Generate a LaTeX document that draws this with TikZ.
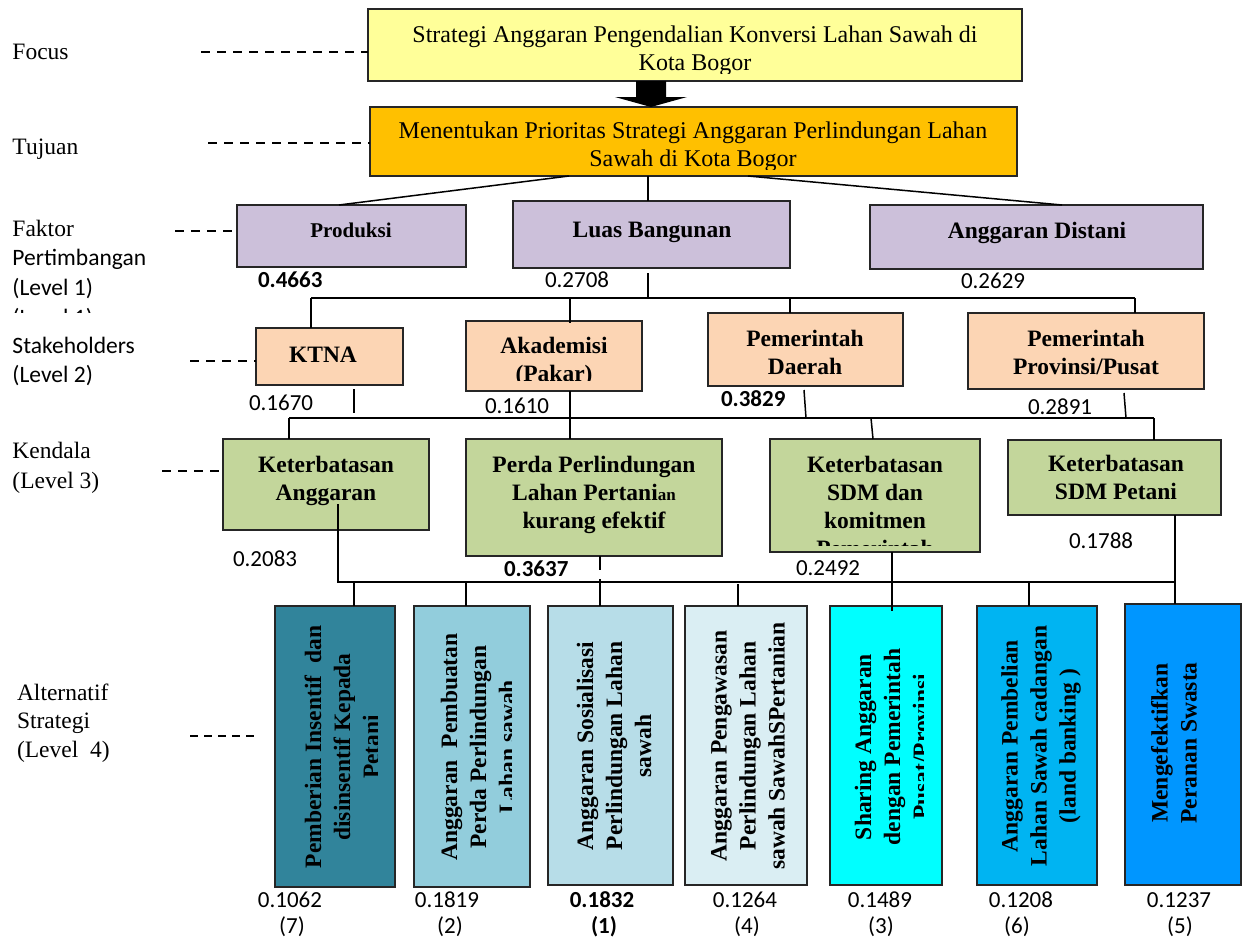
\documentclass[tikz,border=0pt]{standalone}
\usepackage{fontspec}
\setmainfont{Liberation Serif}
\newfontfamily\calib{Carlito}
\usetikzlibrary{calc}
\definecolor{cFocus}{HTML}{FFFF99}
\definecolor{cTuj}{HTML}{FFC000}
\definecolor{cL1}{HTML}{CCC0DA}
\definecolor{cL2}{HTML}{FCD5B4}
\definecolor{cL3}{HTML}{C3D69B}
\definecolor{cA1}{HTML}{31849B}
\definecolor{cA2}{HTML}{92CDDC}
\definecolor{cA3}{HTML}{B7DDE8}
\definecolor{cA4}{HTML}{DAEEF3}
\definecolor{cA5}{HTML}{00FFFF}
\definecolor{cA6}{HTML}{00B4F2}
\definecolor{cA7}{HTML}{0096FF}
\newcommand\ml[1]{\begin{tabular}[t]{@{}c@{}}#1\end{tabular}}
\newcommand\mkbox[6]{\node[box,fill=#6,minimum width={(#4-#2)*1pt},minimum height={(#5-#3)*1pt}] (#1) at ({(#2+#4)/2},{(#3+#5)/2}) {};}
\begin{document}
\begin{tikzpicture}[x=1pt,y=-1pt,
  every node/.style={inner sep=0pt,outer sep=0pt},
  box/.style={draw=black!85,line width=1.8pt},
  conn/.style={line width=1.5pt,black},
  guide/.style={line width=1.6pt,dash pattern=on 9pt off 7pt},
  guideb/.style={line width=1.6pt,dash pattern=on 8pt off 6pt},
  lab/.style={anchor=base west,font=\fontsize{23.5}{28}\selectfont},
  labs/.style={anchor=base west,font=\calib\fontsize{23.5}{28}\selectfont},
  ttl/.style={anchor=base,font=\fontsize{24}{28}\selectfont},
  btxt/.style={anchor=base,font=\bfseries\fontsize{23.5}{28}\selectfont},
  rtxt/.style={rotate=90,align=center,font=\bfseries\fontsize{23.5}{29}\selectfont},
  val/.style={anchor=base west,font=\calib\fontsize{23}{28}\selectfont},
  valc/.style={anchor=base,font=\calib\fontsize{23}{28}\selectfont}]
\useasboundingbox[fill=white] (0,0) rectangle (1244,940);

% ---------- left labels ----------
\node[lab] (lFocus) at (12.5,59) {Focus};
\node[lab] (lTuj) at (12.5,154) {Tujuan};
\node[lab] (lFak) at (12.5,236) {Faktor};
\node[labs] (lPert) at (12.5,265) {Pertimbangan};
\node[labs] (lLev1) at (12.5,295) {(Level 1)};
\begin{scope}
  \clip (0,300) rectangle (300,312);
  \node[labs] (lLev1b) at (12.5,325) {(Level 1)};
\end{scope}
\node[labs] (lStake) at (12.5,353) {Stakeholders};
\node[labs] (lLev2) at (12.5,382) {(Level 2)};
\node[lab] (lKen) at (12.5,458) {Kendala};
\node[lab] (lLev3) at (12.5,488) {(Level 3)};
\node[lab] (lAlt) at (17,700) {Alternatif};
\node[lab] (lStr) at (17,728) {Strategi};
\node[lab] (lLev4) at (17,757) {(Level\ \ 4)};

% ---------- boxes ----------
\mkbox{focus}{368}{9}{1022}{81}{cFocus}
\mkbox{tuj}{370}{107}{1017}{176}{cTuj}
\mkbox{prod}{237}{205}{466}{267}{cL1}
\mkbox{luas}{513}{201}{790}{268}{cL1}
\mkbox{dist}{870}{205}{1203}{269}{cL1}
\mkbox{ktna}{256}{328}{403}{385}{cL2}
\mkbox{akad}{466}{321}{642}{391}{cL2}
\mkbox{pemd}{708}{313}{903}{386}{cL2}
\mkbox{pemp}{968}{313}{1204}{389}{cL2}
\mkbox{ka}{223}{439}{429}{530}{cL3}
\mkbox{perda}{466}{439}{722}{556}{cL3}
\mkbox{sdm}{770}{439}{980}{552}{cL3}
\mkbox{sdmp}{1008}{440}{1221}{515}{cL3}
\mkbox{a1}{275}{606}{395}{887}{cA1}
\mkbox{a2}{414}{606}{530}{887}{cA2}
\mkbox{a3}{548}{606}{673}{885}{cA3}
\mkbox{a4}{685}{606}{807}{885}{cA4}
\mkbox{a5}{830}{606}{942}{885}{cA5}
\mkbox{a6}{977}{606}{1097}{885}{cA6}
\mkbox{a7}{1125}{604}{1241}{885}{cA7}

% ---------- guide dashes ----------
\draw[guide] (201,52) -- (focus.west |- 0,52);
\draw[guide] (208,143) -- (tuj.west |- 0,143);
\draw[guide] (175,231) -- (prod.west |- 0,231);
\draw[guide] (190,361) -- (ktna.west |- 0,361);
\draw[guide] (162,471) -- (ka.west |- 0,471);
\draw[guideb] (190,736) -- (258,736);

% ---------- thick arrow focus -> tujuan ----------
\fill (636,81) -- (666,81) -- (666,97) -- (687,97) -- (651,107) -- (615,97) -- (636,97) -- cycle;

% ---------- connectors ----------
\draw[conn] (tuj.south -| 569,0) -- (prod.north -| 339,0);
\draw[conn] (tuj.south -| 648,0) -- (luas.north -| 648,0);
\draw[conn] (tuj.south -| 748,0) -- (dist.north -| 1062,0);
\coordinate (b1L) at (311,298);
\coordinate (b1R) at (1135,298);
\coordinate (b1M) at (648,298);
\draw[conn] (648,273) -- (b1M);
\draw[conn] (b1L) -- (b1R);
\draw[conn] (b1L) -- (ktna.north -| b1L);
\draw[conn] (570,298) -- (570,323);
\draw[conn] (790,298) -- (pemd.north -| 790,0);
\draw[conn] (b1R) -- (pemp.north -| b1R);

\coordinate (b2L) at (289,418);
\coordinate (b2R) at (1154,418);
\draw[conn] (354,389) -- (354,413);
\draw[conn] (akad.south -| 570,0) -- (perda.north -| 570,0);
\draw[conn] (804,390) -- (806,418);
\draw[conn] (1124,393) -- (1126,418);
\draw[conn] (b2L) -- (b2R);
\draw[conn] (b2L) -- (ka.north -| b2L);
\draw[conn] (871,418) -- (sdm.north -| 873,0);
\draw[conn] (b2R) -- (sdmp.north -| b2R);

\coordinate (b3L) at (338,582);
\coordinate (b3R) at (1175,582);
\draw[conn] (338,504) -- (b3L) -- (b3R);
\draw[conn] (sdmp.south -| b3R) -- (a7.north -| b3R);
\draw[conn] (perda.south -| 600,0) -- (600,570);
\draw[conn] (600,579) -- (a3.north -| 600,0);
\draw[conn] (sdm.south -| 892,0) -- (892,611);
\draw[conn] (354,582) -- (a1.north -| 354,0);
\draw[conn] (466,582) -- (a2.north -| 466,0);
\draw[conn] (738,584) -- (a4.north -| 738,0);
\draw[conn] (1029,582) -- (a6.north -| 1029,0);

% ---------- box texts ----------
\node[ttl] (focusT1) at (695,42) {Strategi Anggaran Pengendalian Konversi Lahan Sawah di};
\begin{scope}
  \clip (368,50) rectangle (1022,73);
  \node[ttl] (focusT2) at (695,70) {Kota Bogor};
\end{scope}
\node[ttl] (tujT1) at (693,138) {Menentukan Prioritas Strategi Anggaran Perlindungan Lahan};
\begin{scope}
  \clip (370,145) rectangle (1017,169);
  \node[ttl] (tujT2) at (693,166) {Sawah di Kota Bogor};
\end{scope}
\node[btxt,font=\bfseries\fontsize{21}{28}\selectfont] (prodT) at (351,237) {Produksi};
\node[btxt] (luasT) at (652,237) {Luas Bangunan};
\node[btxt] (distT) at (1037,238) {Anggaran Distani};
\node[btxt] (ktnaT) at (323,362) {KTNA};
\begin{scope}
  \clip (466,321) rectangle (642,380);
  \node[btxt] (akadT) at (554,353) {\ml{Akademisi\\(Pakar)}};
\end{scope}
\node[btxt] (pemdT) at (805,346) {\ml{Pemerintah\\Daerah}};
\node[btxt] (pempT) at (1086,346) {\ml{Pemerintah\\Provinsi/Pusat}};
\node[btxt] (kaT) at (326,472) {\ml{Keterbatasan\\Anggaran}};
\node[btxt] (perdaT) at (594,472) {\ml{Perda Perlindungan\\Lahan Pertani{\fontsize{17}{28}\selectfont an}\\kurang efektif}};
\begin{scope}
  \clip (770,439) rectangle (980,545);
  \node[btxt] (sdmT) at (875,472) {\ml{Keterbatasan\\SDM dan\\komitmen\\Pemerintah}};
\end{scope}
\node[btxt] (sdmpT) at (1116,471) {\ml{Keterbatasan\\SDM Petani}};

% level 4 rotated texts
\begin{scope}
  \clip (275,606) rectangle (377,887);
  \node[rtxt] (a1T) at (342,747) {Pemberian Insentif\ \ dan\\disinsentif Kepada\\Petani};
\end{scope}
\begin{scope}
  \clip (414,606) rectangle (511,887);
  \node[rtxt] (a2T) at (478,747) {Anggaran\ \ Pembuatan\\Perda Perlindungan\\Lahan sawah};
\end{scope}
\node[rtxt] (a3T) at (614,746) {Anggaran Sosialisasi\\Perlindungan Lahan\\sawah};
\node[rtxt] (a4T) at (748,746) {Anggaran Pengawasan\\Perlindungan Lahan\\sawah SawahSPertanian};
\begin{scope}
  \clip (830,606) rectangle (923,885);
  \node[rtxt] (a5T) at (892,747) {Sharing Anggaran\\dengan Pemerintah\\Pusat/Provinsi};
\end{scope}
\node[rtxt] (a6T) at (1041,746) {Anggaran Pembelian\\Lahan Sawah cadangan\\(land banking )};
\node[rtxt] (a7T) at (1174,743) {Mengefektifkan\\Peranan Swasta};

% ---------- weights ----------
\node[val,font=\calib\bfseries\fontsize{23}{28}\selectfont] (v1) at (258,287) {0.4663};
\node[val] (v2) at (545,287) {0.2708};
\node[val] (v3) at (961,288) {0.2629};
\node[val] (v4) at (249,410) {0.1670};
\node[val] (v5) at (485,413) {0.1610};
\node[val,font=\calib\bfseries\fontsize{23}{28}\selectfont] (v6) at (721,406) {0.3829};
\node[val] (v7) at (1028,414) {0.2891};
\node[val] (v8) at (233,566) {0.2083};
\node[val,font=\calib\bfseries\fontsize{23}{28}\selectfont] (v9) at (504,576) {0.3637};
\node[val] (v10) at (796,575) {0.2492};
\node[val] (v11) at (1069,548) {0.1788};

\node[valc] (w1) at (290,907) {0.1062};
\node[valc] (w2) at (447,907) {0.1819};
\node[valc,font=\calib\bfseries\fontsize{23}{28}\selectfont] (w3) at (602,907) {0.1832};
\node[valc] (w4) at (745,907) {0.1264};
\node[valc] (w5) at (880,907) {0.1489};
\node[valc] (w6) at (1021,907) {0.1208};
\node[valc] (w7) at (1179,907) {0.1237};
\node[valc] (r1) at (292,933) {(7)};
\node[valc] (r2) at (450,933) {(2)};
\node[valc,font=\calib\bfseries\fontsize{23}{28}\selectfont] (r3) at (604,933) {(1)};
\node[valc] (r4) at (747,933) {(4)};
\node[valc] (r5) at (881,933) {(3)};
\node[valc] (r6) at (1017,933) {(6)};
\node[valc] (r7) at (1180,933) {(5)};
\end{tikzpicture}
\end{document}
